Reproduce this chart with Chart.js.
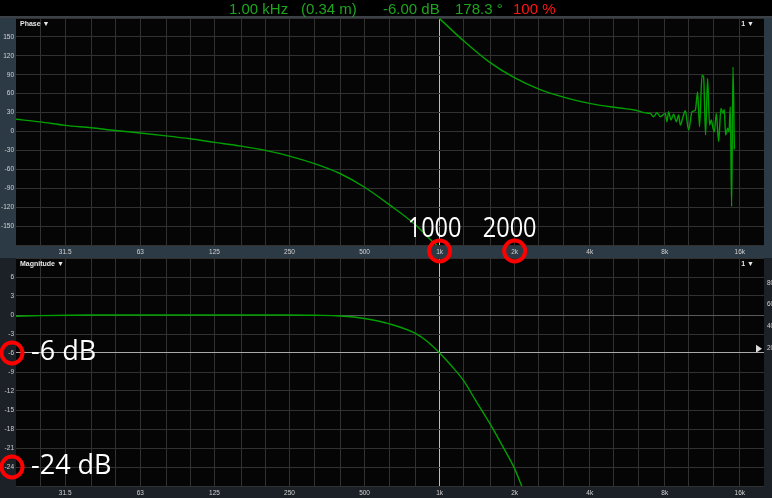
<!DOCTYPE html>
<html>
<head>
<meta charset="utf-8">
<script src="https://cdn.jsdelivr.net/npm/chart.js@4.4.1/dist/chart.umd.min.js"></script>
<style>
  html, body { margin: 0; padding: 0; background: #000; width: 772px; height: 498px; overflow: hidden; }
  #header { position: absolute; left: 0; top: 0; width: 772px; height: 16px; z-index: 5;
            font-family: "Liberation Sans", Arial, sans-serif; font-size: 15px; }
  #header span { position: absolute; top: 0px; line-height: 17px; white-space: pre; }
  canvas { position: absolute; left: 0; }
  #phaseCanvas { top: 16px; }
  #magCanvas { top: 258px; }
  #overlay { top: 0; pointer-events: none; }
</style>
</head>
<body>
<div id="header"></div>
<canvas id="phaseCanvas" width="772" height="242"></canvas>
<canvas id="magCanvas" width="772" height="240"></canvas>
<canvas id="overlay" width="772" height="498"></canvas>
<script>
// readout on top of the window
const readoutText = ['1.00 kHz', '(0.34 m)', '-6.00 dB', '178.3 °', '100 %'];

// 1/3 octave grid and octave labels
const gridFreqs = [25, 31.5, 40, 50, 63, 80, 100, 125, 160, 200, 250, 315, 400, 500, 630, 800,
                   1000, 1250, 1600, 2000, 2500, 3150, 4000, 5000, 6300, 8000, 10000, 12500, 16000];
const labelFreqs = [31.5, 63, 125, 250, 500, 1000, 2000, 4000, 8000, 16000];
const freqLabels = ['31.5', '63', '125', '250', '500', '1k', '2k', '4k', '8k', '16k'];

const phaseTicks = [-180, -150, -120, -90, -60, -30, 0, 30, 60, 90, 120, 150, 180];
const magTicks = [-27, -24, -21, -18, -15, -12, -9, -6, -3, 0, 3, 6, 9];
const cohTicks = [20, 40, 60, 80];

// phase trace (Hz, degrees) - null = wrap point
const phaseFreq = [20, 25, 31.5, 40, 50, 63, 80, 100, 125, 160, 200, 250, 315, 400, 500, 630, 800, 930, 975,
                   980, 1000, 1257, 1584, 1995, 2514, 3168, 3990, 4410, 5030, 5300, 6050, 6330, 6680, 7000,
                   7213, 7444, 7674, 8040, 8160, 8290, 8470, 8680, 8900, 9090, 9230, 9470, 9670, 9970,
                   10290, 10610, 10830, 11030, 11280, 11450, 11660, 11880, 12100, 12290, 12490, 12640,
                   12880, 13150, 13440, 13700, 13860, 14030, 14290, 14480, 14650, 14830, 15020, 15210];
const phaseDeg = [19.4, 15.2, 9.7, 5.9, 1.6, -2.4, -6.9, -11.6, -17.2, -23.2, -30, -39, -51, -67, -88.4,
                  -116.4, -148, -173.5, -180,
                  null, 179, 142.6, 110, 85.3, 66.8, 54.2, 44.7, 41.5, 38.4, 37.2, 34.1, 32, 29.5, 28.7,
                  23.4, 29.7, 23.4, 28.7, 15.5, 31.3, 18.2, 27.6, 15.5, 26.1, 10.3, 23.4, 32.8, 2.4,
                  31.3, 33.9, 62.8, 7.6, 89.2, 86.5, -5.5, 84, 10.3, 18.2, 5.1, -0.3,
                  28.7, -16.1, 36.6, 28.7, 35.1, -5.5, 5.1, -0.3, 39.2, -118.7, 102.3, -28.1];

// magnitude trace (Hz, dB)
const magFreq = [20, 25, 40, 63, 100, 160, 250, 315, 400, 500, 630, 800, 900, 1000, 1120, 1250, 1400, 1600, 1800, 2000, 2150];
const magDb = [-0.2, -0.1, 0, 0, 0, 0, 0, -0.05, -0.15, -0.55, -1.4, -2.9, -4.3, -6, -8.1, -10.4, -13.6, -17.3, -20.9, -24.3, -27.3];

// highlighted values
const markFreqs = [1000, 2000];
const markFreqText = ['1000', '2000'];
const markDb = [-6, -24];
const markDbText = ['-6 dB', '-24 dB'];

const FONT = '"Liberation Sans", Arial, sans-serif';
const GRID = '#313131';
const TICK = '#d2d2d2';
const TRACE = '#00a000';

const hdr = document.getElementById('header');
const hdrLeft = [229, 301, 383, 455, 513];
readoutText.forEach((t, i) => {
    const s = document.createElement('span');
    s.textContent = t;
    s.style.left = hdrLeft[i] + 'px';
    s.style.color = i === readoutText.length - 1 ? '#ff1414' : '#1ea51e';
    hdr.appendChild(s);
});

// keep the plot area fixed: no extra room for half labels
function pin(s, w, h) {
    if (w !== undefined) s.width = w;
    if (h !== undefined) s.height = h;
    s.paddingTop = 0;
    s.paddingBottom = 0;
    s.paddingLeft = 0;
    s.paddingRight = 0;
}

const panelBg = {
    id: 'panelBg',
    beforeDraw(chart, args, opts) {
        const { ctx, chartArea: a, width, height } = chart;
        ctx.save();
        ctx.fillStyle = opts.strip;
        ctx.fillRect(0, 0, width, height);
        if (opts.bar) {
            ctx.fillStyle = opts.bar;
            ctx.fillRect(0, 0, width, a.top);
        }
        ctx.fillStyle = '#050505';
        ctx.fillRect(a.left, a.top, a.right - a.left, a.bottom - a.top);
        ctx.restore();
    },
    afterDraw(chart, args, opts) {
        const { ctx, chartArea: a } = chart;
        ctx.save();
        ctx.fillStyle = '#e8e8e8';
        ctx.font = 'bold 7px ' + FONT;
        ctx.textBaseline = 'middle';
        ctx.fillText(opts.title, a.left + 4, a.top + 6);
        ctx.textAlign = 'right';
        ctx.fillText('1 \u25BC', a.right - 10, a.top + 6);
        ctx.restore();
    }
};

function freqAxis(stripH) {
    return {
        type: 'logarithmic', min: 20, max: 20000, position: 'bottom',
        afterBuildTicks: s => { s.ticks = gridFreqs.map(v => ({ value: v })); },
        afterFit: s => pin(s, undefined, stripH),
        ticks: {
            autoSkip: false, maxRotation: 0, minRotation: 0, padding: 3, color: TICK,
            font: { family: FONT, size: 6.5 },
            callback: v => { const i = labelFreqs.indexOf(v); return i < 0 ? '' : freqLabels[i]; }
        },
        grid: { drawTicks: false, color: c => (c.tick && c.tick.value === 1000) ? '#bdbdbd' : GRID },
        border: { display: false }
    };
}

function leftAxis(min, max, tickList, gridColor) {
    return {
        min: min, max: max, position: 'left',
        afterBuildTicks: s => { s.ticks = tickList.map(v => ({ value: v })); },
        afterFit: s => pin(s, 16),
        ticks: {
            padding: 2, color: TICK, font: { family: FONT, size: 6.5 },
            callback: v => (v === min || v === max) ? '' : String(v)
        },
        grid: { drawTicks: false, color: gridColor },
        border: { display: false }
    };
}

const phaseChart = new Chart(document.getElementById('phaseCanvas'), {
    type: 'line',
    data: {
        datasets: [{
            data: phaseFreq.map((f, i) => ({ x: f, y: phaseDeg[i] })),
            borderColor: TRACE, borderWidth: 1.4, pointRadius: 0,
            cubicInterpolationMode: 'monotone', spanGaps: false
        }]
    },
    options: {
        responsive: false, animation: false, events: [],
        layout: { autoPadding: false, padding: { top: 2, left: 0, right: 0, bottom: 0 } },
        scales: {
            x: freqAxis(13),
            y: leftAxis(-180, 180, phaseTicks, GRID),
            yR: { position: 'right', min: 0, max: 1, afterFit: s => pin(s, 8),
                  ticks: { display: false }, grid: { display: false, drawTicks: false }, border: { display: false } }
        },
        plugins: {
            legend: { display: false }, tooltip: { enabled: false },
            panelBg: { strip: '#2c3a46', bar: '#3b4147', title: 'Phase \u25BC' }
        }
    },
    plugins: [panelBg]
});

const magChart = new Chart(document.getElementById('magCanvas'), {
    type: 'line',
    data: {
        datasets: [{
            data: magFreq.map((f, i) => ({ x: f, y: magDb[i] })),
            borderColor: TRACE, borderWidth: 1.4, pointRadius: 0,
            cubicInterpolationMode: 'monotone'
        }]
    },
    options: {
        responsive: false, animation: false, events: [],
        layout: { autoPadding: false, padding: 0 },
        scales: {
            x: freqAxis(12),
            y: leftAxis(-27, 9, magTicks,
                c => c.tick && c.tick.value === -6 ? '#a8a8a8' : (c.tick && c.tick.value === 0 ? '#5a5a5a' : GRID)),
            yR: {
                position: 'right', min: -105, max: 102.5,
                afterBuildTicks: s => { s.ticks = cohTicks.map(v => ({ value: v })); },
                afterFit: s => pin(s, 8),
                ticks: { padding: 3, color: TICK, font: { family: FONT, size: 6.5 } },
                grid: { display: false, drawTicks: false }, border: { display: false }
            }
        },
        plugins: {
            legend: { display: false }, tooltip: { enabled: false },
            panelBg: { strip: '#1c2127', title: 'Magnitude \u25BC' }
        }
    },
    plugins: [panelBg]
});

// annotations over both panels
const phaseTop = 16, magTop = 258;
const ov = document.getElementById('overlay').getContext('2d');

function ring(x, y) {
    ov.beginPath();
    ov.arc(x, y, 10.5, 0, Math.PI * 2);
    ov.stroke();
}

function label(text, x, y, size, sx, align) {
    ov.save();
    ov.translate(x, y);
    ov.scale(sx, 1);
    ov.font = size + 'px "Open Sans", "DejaVu Sans", sans-serif';
    ov.fillStyle = '#ffffff';
    ov.textAlign = align;
    ov.textBaseline = 'alphabetic';
    ov.fillText(text, 0, 0);
    ov.restore();
}

ov.strokeStyle = '#ff0000';
ov.lineWidth = 4;
const px = phaseChart.scales.x;
const axisY = phaseTop + phaseChart.chartArea.bottom + 6;
markFreqs.forEach((f, i) => {
    const x = px.getPixelForValue(f);
    ring(x, axisY);
    label(markFreqText[i], x - 5, axisY - 14, 28, 0.84, 'center');
});

const my = magChart.scales.y;
markDb.forEach((d, i) => {
    const y = magTop + my.getPixelForValue(d);
    ring(my.right - 4, y);
    label(markDbText[i], 31, y + 7, 27, 1, 'left');
});

// reference marker on the right edge of the magnitude panel
const yR = magChart.scales.yR;
const ty = magTop + yR.getPixelForValue(20);
const tx = magChart.chartArea.right - 8;
ov.fillStyle = '#dcdcdc';
ov.beginPath();
ov.moveTo(tx, ty - 4);
ov.lineTo(tx + 6, ty);
ov.lineTo(tx, ty + 4);
ov.closePath();
ov.fill();
</script>
</body>
</html>
